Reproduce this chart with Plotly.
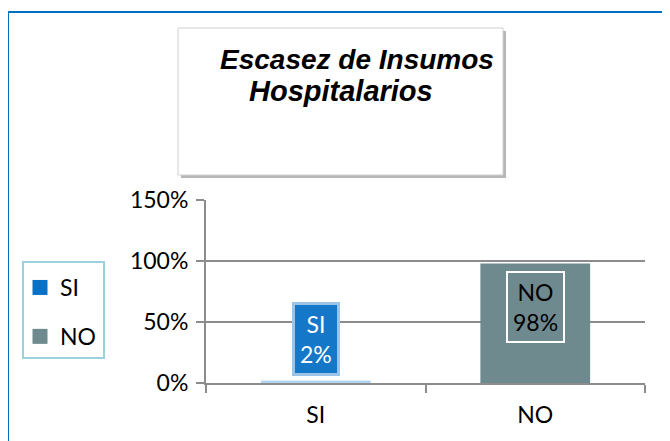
import plotly.graph_objects as go

categories = ["SI", "NO"]
values = [0.02, 0.98]
legend_colors = ["#0A72C6", "#6E8A8F"]
bar_colors = ["#B4D3EE", "#6E8A8F"]
label_texts = ["SI<br>2%", "NO<br>98%"]
title_lines = ["Escasez de Insumos", "Hospitalarios"]
y_ticks = [0, 0.5, 1.0, 1.5]
y_tick_labels = ["0%", "50%", "100%", "150%"]

OFF = 8  # page body margin
W, H = 670 - OFF, 441 - OFF
L, R, T, B = 206 - OFF, 25, 200 - OFF, 58
pw, ph = W - L - R, H - T - B

def px(x):
    return (x - OFF - L) / pw

def py(y):
    return (H - B - (y - OFF)) / ph

fig = go.Figure()
fig.add_trace(go.Bar(x=categories, y=values, marker=dict(color=bar_colors, line=dict(width=0)),
                     width=0.5, showlegend=False))
for cat, col in zip(categories, legend_colors):
    fig.add_trace(go.Scatter(x=[None], y=[None], name=cat, mode="markers",
                             marker=dict(color=col, symbol="square", size=15),
                             legendgroup=cat, showlegend=True))

# data label boxes
fig.add_annotation(x=categories[0], y=0.665, text=label_texts[0], showarrow=False,
                   xref="x", yref="y", yanchor="top", xanchor="center",
                   font=dict(family="Lato", size=23, color="white"),
                   bgcolor="#1577C8", bordercolor="#9CC4E8", borderwidth=3, borderpad=5)
fig.add_annotation(x=categories[1], y=0.915, text=label_texts[1], showarrow=False,
                   xref="x", yref="y", yanchor="top", xanchor="center",
                   font=dict(family="Lato", size=23, color="black"),
                   bgcolor=bar_colors[1], bordercolor="white", borderwidth=2, borderpad=5)

shapes = []
# outer blue border
shapes.append(dict(type="rect", xref="paper", yref="paper",
                   x0=px(8), x1=px(700), y0=py(12), y1=py(470),
                   line=dict(color="#0070C0", width=2), fillcolor="rgba(0,0,0,0)", layer="below"))
# title box shadow
shapes.append(dict(type="rect", xref="paper", yref="paper",
                   x0=px(181), x1=px(506), y0=py(31), y1=py(178),
                   line=dict(width=0), fillcolor="rgba(110,110,110,0.5)", layer="above"))
# title box
shapes.append(dict(type="rect", xref="paper", yref="paper",
                   x0=px(178), x1=px(503), y0=py(28), y1=py(175),
                   line=dict(color="#D0D0D0", width=1), fillcolor="white", layer="above"))
# legend box
shapes.append(dict(type="rect", xref="paper", yref="paper",
                   x0=px(23), x1=px(104), y0=py(262), y1=py(358),
                   line=dict(color="#9BD1DA", width=2), fillcolor="white", layer="below"))
fig.update_layout(shapes=shapes)

fig.add_annotation(x=px(357), y=py(59), xref="paper", yref="paper", xanchor="center", yanchor="middle",
                   text="<b><i>" + title_lines[0] + "</i></b>",
                   showarrow=False, font=dict(family="Liberation Sans", size=28, color="black"))
fig.add_annotation(x=px(341), y=py(91), xref="paper", yref="paper", xanchor="center", yanchor="middle",
                   text="<b><i>" + title_lines[1] + "</i></b>",
                   showarrow=False, font=dict(family="Liberation Sans", size=29, color="black"))

fig.update_layout(
    width=W, height=H,
    margin=dict(l=L, r=R, t=T, b=B),
    paper_bgcolor="white", plot_bgcolor="white",
    bargap=0.5,
    font=dict(family="Lato", size=23, color="black"),
    legend=dict(x=px(20), y=py(266), xanchor="left", yanchor="top",
                bgcolor="rgba(0,0,0,0)", font=dict(family="Lato", size=23),
                itemsizing="trace", tracegroupgap=16, itemwidth=30),
    xaxis=dict(showline=True, linecolor="#8C8C8C", linewidth=2, ticks="outside",
               tickcolor="#8C8C8C", ticklen=8, tickwidth=2, showgrid=False,
               tickson="boundaries", ticklabelstandoff=10, fixedrange=True),
    yaxis=dict(range=[0, 1.5], tickvals=y_ticks, ticktext=y_tick_labels,
               showline=True, linecolor="#8C8C8C", linewidth=2, ticks="outside",
               tickcolor="#8C8C8C", ticklen=8, tickwidth=2,
               showgrid=True, gridcolor="#8C8C8C", gridwidth=1.5, zeroline=False,
               ticklabelstandoff=3, fixedrange=True),
)

fig.write_html("out.html")
